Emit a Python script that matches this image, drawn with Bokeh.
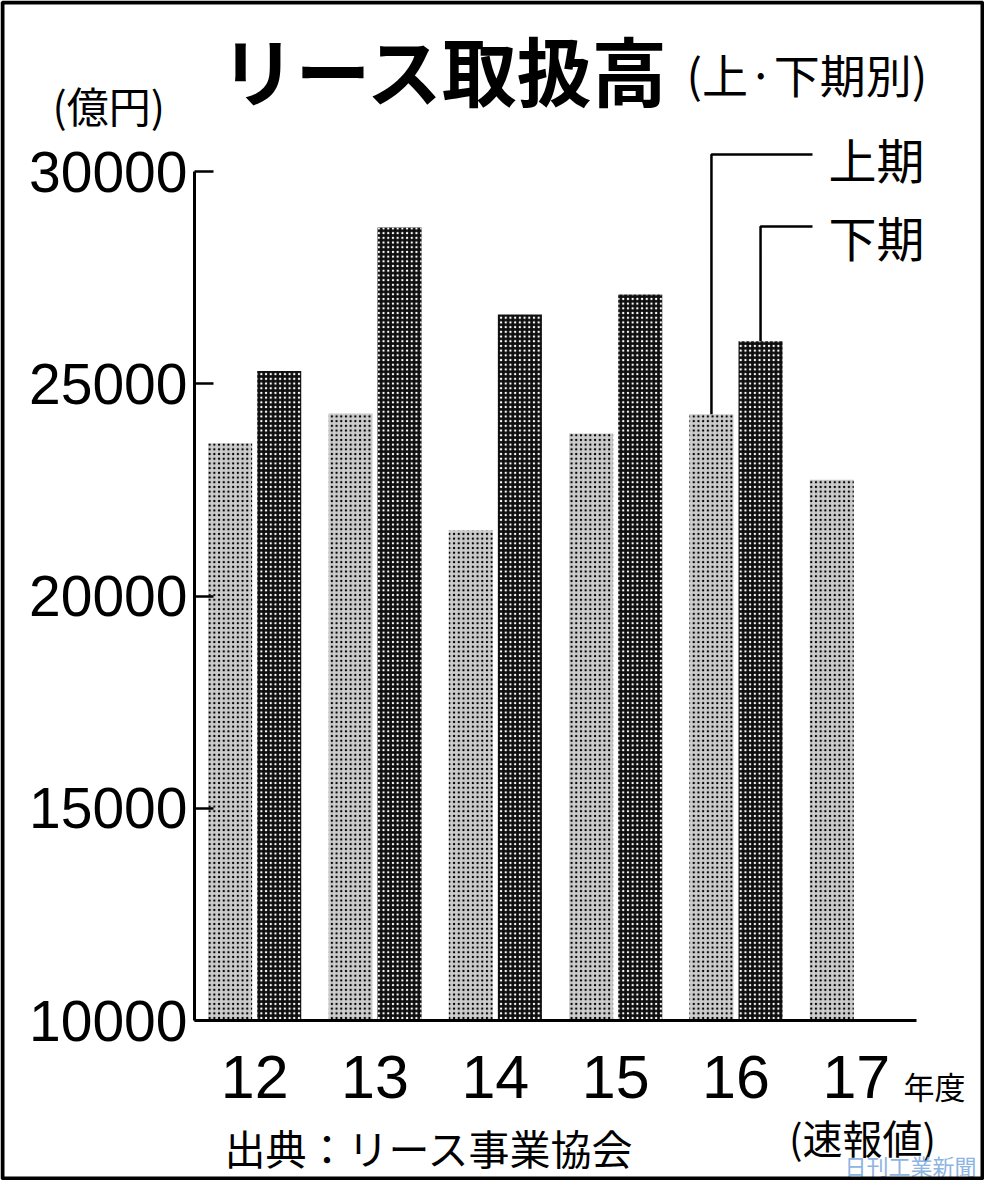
from bokeh.plotting import figure
from bokeh.models import Range1d, FixedTicker, Label, BoxAnnotation, ColumnDataSource, NumeralTickFormatter
from bokeh.embed import file_html
from bokeh.resources import INLINE

# ---- data ----
years = ["12", "13", "14", "15", "16", "17"]
first_half = [23600, 24300, 21550, 23830, 24280, 22740]     # 上期
second_half = [25300, 28680, 26630, 27100, 26000, None]     # 下期 (17 not yet)
y_ticks = [10000, 15000, 20000, 25000, 30000]

NUM = "Liberation Sans"
JP = "Noto Sans CJK JP"

W, H = 984, 1180
# where the axes sit on the canvas (px)
AX_L, AX_R, Y30, Y10 = 194, 916, 171, 1020
PX_PER_CAT = (AX_R - AX_L) / 6
PX_PER_VAL = (Y10 - Y30) / 20000

x_start = -AX_L / PX_PER_CAT
x_end = (W - AX_L) / PX_PER_CAT
y_end = 30000 + Y30 / PX_PER_VAL
y_start = 10000 - (H - Y10) / PX_PER_VAL

p = figure(width=W, height=H, output_backend="svg", toolbar_location=None,
           x_range=Range1d(x_start, x_end), y_range=Range1d(y_start, y_end),
           min_border_left=0, min_border_right=0, min_border_top=0, min_border_bottom=0)
p.grid.visible = False
p.outline_line_color = None
p.background_fill_color = "white"
p.border_fill_color = "white"


def xd(px):
    return x_start + px / PX_PER_CAT


def yd(py):
    return y_end - py / PX_PER_VAL


centers = [i + 0.5 for i in range(len(years))]
off = 0.204
bw = 0.366

src1 = ColumnDataSource(dict(x=[c - off for c in centers], top=first_half))
xs2 = [c + off for c, v in zip(centers, second_half) if v is not None]
tops2 = [v for v in second_half if v is not None]
src2 = ColumnDataSource(dict(x=xs2, top=tops2))

p.vbar(x="x", top="top", bottom=10000, width=bw, source=src1,
       fill_color="#cccccc", line_color=None,
       hatch_pattern="dot", hatch_color="black", hatch_scale=4.7, hatch_weight=2.0)
p.vbar(x="x", top="top", bottom=10000, width=bw, source=src2,
       fill_color="#0e0e0e", line_color=None,
       hatch_pattern="dot", hatch_color="white", hatch_scale=4.7, hatch_weight=0.9)

# leader lines for the legend (from the 16 bars)
i16 = years.index("16")
xl = centers[i16] - off
xr = centers[i16] + off
p.line(x=[xl, xl, xd(812)], y=[first_half[i16], yd(154), yd(154)], line_color="black", line_width=2.5)
p.line(x=[xr, xr, xd(812)], y=[second_half[i16], yd(226), yd(226)], line_color="black", line_width=2.5)

# axes, drawn at fixed locations inside the full-canvas frame
xa = p.xaxis[0]
xa.fixed_location = 10000
xa.bounds = (0, 6)
xa.ticker = FixedTicker(ticks=centers)
xa.major_label_overrides = {c: y for c, y in zip(centers, years)}
xa.major_tick_line_color = None
xa.minor_tick_line_color = None
xa.axis_line_width = 3
xa.major_label_text_font = NUM
xa.major_label_text_font_size = "61px"
xa.major_label_standoff = 29
xa.major_label_text_color = "black"

ya = p.yaxis[0]
ya.fixed_location = 0
ya.ticker = FixedTicker(ticks=y_ticks)
ya.formatter = NumeralTickFormatter(format="0")
ya.bounds = (10000, 30000)
ya.major_tick_in = 19
ya.major_tick_out = 0
ya.major_tick_line_width = 2.5
ya.minor_tick_line_color = None
ya.axis_line_width = 3
ya.major_label_text_font = NUM
ya.major_label_text_font_size = "57px"
ya.major_label_standoff = 7
ya.major_label_text_color = "black"


def lab(text, px, py, size, font=JP, style="normal", align="left", color="black"):
    p.add_layout(Label(x=xd(px), y=yd(py), text=text, text_font=font, text_font_size=size,
                       text_font_style=style, text_align=align, text_baseline="middle",
                       text_color=color))


lab("リース取扱高", 220, 68, "75px", style="bold")
lab("(上·下期別)", 686, 72, "46px")
lab("(億円)", 52, 104, "42px")
lab("上期", 828, 157, "48px")
lab("下期", 828, 235, "48px")
lab("年度", 903, 1085, "31px")
lab("(速報値)", 862, 1136, "40px", align="center")
lab("出典：リース事業協会", 224, 1146, "41px")
lab("日刊工業新聞", 976, 1164, "22px", align="right", color="#8db4e2")

# outer frame of the graphic
p.add_layout(BoxAnnotation(left=xd(2), right=xd(W - 2), top=yd(2), bottom=yd(H - 2),
                           fill_alpha=0, line_color="black", line_width=4, line_alpha=1))

open("out.html", "w").write(file_html(p, INLINE))
